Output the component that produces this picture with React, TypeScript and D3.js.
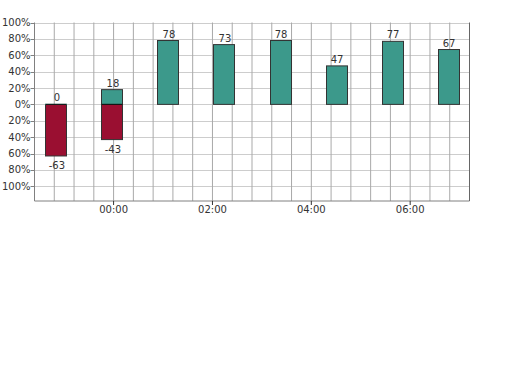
import * as d3 from "d3";

// bar times (HH:MM), times before noon belong to the next day
const times = ["22:50", "23:58", "01:06", "02:14", "03:22", "04:30", "05:38", "06:46"];
const positives = [0, 18, 78, 73, 78, 47, 77, 67];
const negatives: (number | null)[] = [-63, -43, null, null, null, null, null, null];
const yTicks = [100, 80, 60, 40, 20, 0, -20, -40, -60, -80, -100];
const xStart = "22:24";
const xEnd = "07:12";

const W = 512;
const H = 384;
const left = 34.5;
const right = 469.5;
const top = 22.5;
const bottom = 201;
const barW = 21;
const teal = "#3c998b";
const crimson = "#9a0f31";
const font = "DejaVu Sans, Verdana, sans-serif";

function toDate(s: string) {
  const [h, m] = s.split(":").map(Number);
  return new Date(2020, 0, h < 12 ? 2 : 1, h, m);
}

export default function App() {
  const x = d3.scaleTime().domain([toDate(xStart), toDate(xEnd)]).range([left, right]);
  const y = d3.scaleLinear().domain([-118, 100]).range([bottom, top]);

  // vertical grid every 24 minutes starting from the left edge
  const grid = d3.timeMinute.range(toDate(xStart), toDate(xEnd), 24);
  const labelTicks = d3.timeHour.every(2)!.range(toDate(xStart), toDate(xEnd));
  const fmt = d3.timeFormat("%H:%M");
  const y0 = y(0);

  return (
    <svg width={W} height={H} style={{ position: "absolute", left: 0, top: 0 }} fontFamily={font}>
      <rect width={W} height={H} fill="#fff" />
      {yTicks.map((t) => (
        <line key={"h" + t} x1={left} x2={right} y1={Math.round(y(t)) + 0.5} y2={Math.round(y(t)) + 0.5} stroke="#cdcdcd" />
      ))}
      {grid.slice(1).map((d, i) => (
        <line key={"v" + i} x1={x(d)} x2={x(d)} y1={top} y2={bottom} stroke="#a9a9a9" />
      ))}
      {/* axes */}
      <line x1={left} x2={left} y1={top} y2={bottom} stroke="#808080" />
      <line x1={left} x2={right} y1={bottom} y2={bottom} stroke="#808080" />
      <line x1={right} x2={right} y1={top} y2={bottom} stroke="#666" />
      {yTicks.map((t) => (
        <g key={"yt" + t}>
          <line x1={left - 4} x2={left} y1={Math.round(y(t)) + 0.5} y2={Math.round(y(t)) + 0.5} stroke="#808080" />
          <text x={left - 4} y={y(t)} dy="0.35em" textAnchor="end" fontSize={10} fill="#333">
            {Math.abs(t) + "%"}
          </text>
        </g>
      ))}
      {labelTicks.map((d, i) => (
        <g key={"xt" + i}>
          <line x1={x(d)} x2={x(d)} y1={bottom} y2={bottom + 4} stroke="#333" />
          <text x={x(d)} y={bottom + 12} textAnchor="middle" fontSize={10} fill="#333">
            {fmt(d)}
          </text>
        </g>
      ))}
      {/* bars */}
      {times.map((t, i) => {
        const cx = x(toDate(t));
        const bx = Math.round(cx - barW / 2) + 0.5;
        const pv = positives[i];
        const nv = negatives[i];
        return (
          <g key={"b" + i}>
            {nv !== null && (
              <>
                <rect x={bx} y={y0} width={barW} height={y(nv) - y0} fill={crimson} stroke="#333" />
                <text x={cx + 1} y={y(nv) + 13} textAnchor="middle" fontSize={10} fill="#333">
                  {nv}
                </text>
              </>
            )}
            <rect x={bx} y={y(pv)} width={barW} height={Math.max(y0 - y(pv), 0.01)} fill={teal} stroke={pv === 0 ? teal : "#333"} />
            {nv !== null && <line x1={bx} x2={bx + barW} y1={y0} y2={y0} stroke="#111" />}
            <text x={cx + 1} y={y(pv) - 3} textAnchor="middle" fontSize={10} fill="#333">
              {pv}
            </text>
          </g>
        );
      })}
    </svg>
  );
}
